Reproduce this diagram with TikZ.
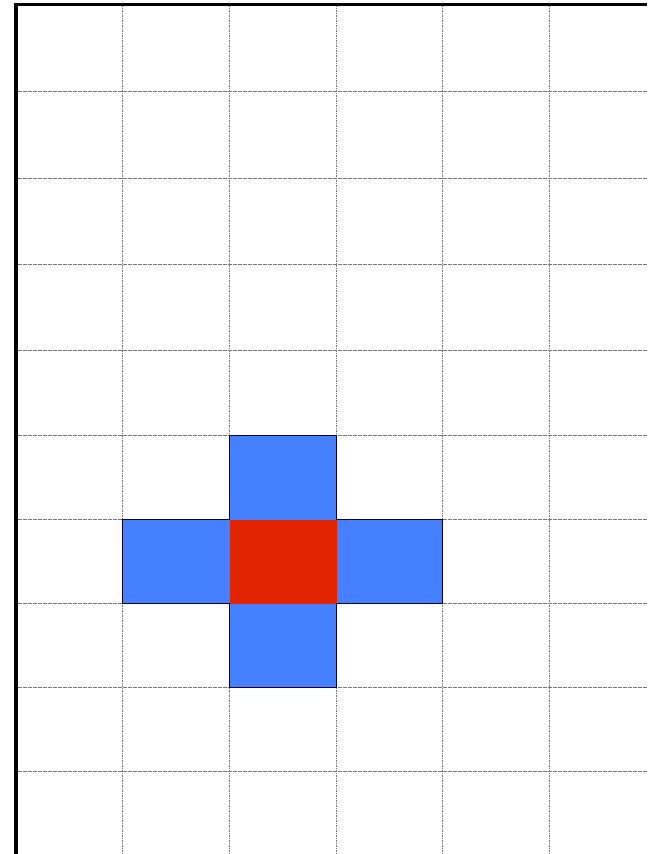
\documentclass[tikz,border=0pt]{standalone}
\definecolor{cellblue}{RGB}{68,128,255}
\definecolor{cellred}{RGB}{227,36,0}
\definecolor{gridgray}{RGB}{120,120,120}
\begin{document}
\begin{tikzpicture}[x=0.75pt,y=-0.75pt,
  gridline/.style={gridgray,line width=0.9pt,dash pattern=on 0.9pt off 0.35pt},
  border/.style={black,line width=2.4pt},
  crossout/.style={draw=black!80!blue,line width=0.9pt}]
\useasboundingbox[fill=white] (0,0) rectangle (647,854);
% grid
\foreach \y in {91.5,178.5,264.5,350.5,435.5,519.5,603.5,687.5,771.5}
  \draw[gridline] (16,\y) -- (647,\y);
\foreach \x in {122.5,229.5,336.5,442.5,549.5}
  \draw[gridline] (\x,4.5) -- (\x,854);
% cross cells
\fill[cellblue] (229.5,435.5) rectangle (336.5,687.5);
\fill[cellblue] (122.5,519.5) rectangle (442.5,603.5);
\fill[cellred] (229.5,519.5) rectangle (336.5,603.5);
\draw[crossout] (229.5,435.5) -- (336.5,435.5) -- (336.5,519.5) -- (442.5,519.5) -- (442.5,603.5)
  -- (336.5,603.5) -- (336.5,687.5) -- (229.5,687.5) -- (229.5,603.5) -- (122.5,603.5)
  -- (122.5,519.5) -- (229.5,519.5) -- cycle;
% borders
\draw[border] (16,4.5) -- (647,4.5);
\draw[border] (16,3.3) -- (16,854);
\end{tikzpicture}
\end{document}
